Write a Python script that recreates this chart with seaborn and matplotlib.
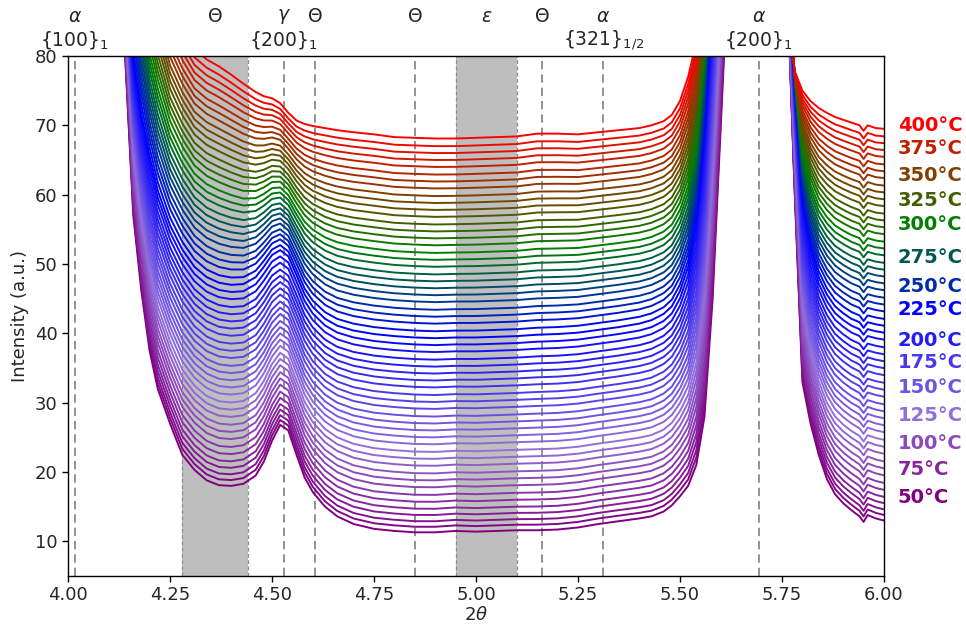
import numpy as np
import pandas as pd
import matplotlib
matplotlib.use("Agg")
import matplotlib.pyplot as plt
import matplotlib.transforms as mtransforms
from matplotlib.colors import LinearSegmentedColormap, to_hex
import seaborn as sns

# ---------------- data ----------------
two_theta = [4.10, 4.14, 4.16, 4.18, 4.20, 4.22, 4.25, 4.28, 4.31, 4.34, 4.37, 4.40,
             4.43, 4.46, 4.48, 4.50, 4.52, 4.54, 4.56, 4.58, 4.60, 4.63, 4.66, 4.70,
             4.75, 4.80, 4.85, 4.90, 4.95, 5.00, 5.05, 5.10, 5.15, 5.20, 5.25, 5.30,
             5.35, 5.40, 5.43, 5.46, 5.48, 5.50, 5.52, 5.54, 5.56, 5.58, 5.60, 5.62,
             5.66, 5.70, 5.74, 5.76, 5.78, 5.80, 5.82, 5.84, 5.86, 5.88, 5.90, 5.92,
             5.94, 5.95, 5.96, 5.98, 6.00]

# lowest curve (50 °C)
profile_50 = [120, 80, 57, 46, 37.5, 32, 27, 22.5, 20.3, 18.8, 18.1, 18.0,
              18.3, 19.5, 21.5, 24.5, 26.8, 26.0, 22.5, 19.2, 17.1, 15.0, 13.6, 12.5,
              11.8, 11.5, 11.3, 11.3, 11.5, 11.4, 11.5, 11.6, 11.6, 11.7, 12.0, 12.5,
              12.9, 13.3, 13.6, 14.3, 15.2, 16.5, 18.0, 21.0, 28.0, 45.0, 70.0, 95.0,
              150, 150, 150, 95, 62, 33, 27, 22.5, 19.0, 16.8, 15.5, 14.5,
              13.6, 12.8, 13.8, 13.3, 13.0]
# middle curve (225 °C)
profile_225 = [130, 95, 80, 72, 66, 61, 56, 52.5, 50.0, 48.5, 47.7, 47.4,
               47.5, 48.5, 50.0, 51.7, 52.4, 51.5, 48.8, 46.0, 44.2, 42.5, 41.5, 40.8,
               40.3, 40.0, 39.8, 39.7, 39.8, 39.8, 39.9, 40.0, 40.2, 40.3, 40.5, 40.9,
               41.3, 41.8, 42.3, 43.2, 44.3, 46.5, 50.0, 57.0, 70.0, 90.0, 110, 130,
               160, 160, 160, 100, 78, 60, 53, 48.5, 46.0, 44.3, 43.3, 42.5,
               42.0, 41.2, 42.0, 41.7, 41.5]
# highest curve (400 °C)
profile_400 = [150, 130, 120, 110, 100, 95, 88, 84, 81, 79.5, 78.5, 77.3,
               76.0, 74.8, 74.2, 73.9, 73.2, 71.8, 70.7, 70.2, 69.9, 69.6, 69.3, 69.0,
               68.7, 68.3, 68.2, 68.1, 68.1, 68.2, 68.3, 68.4, 68.8, 68.8, 68.7, 69.0,
               69.3, 69.6, 70.0, 70.6, 71.5, 73.5, 77.0, 82.0, 95.0, 110, 130, 150,
               170, 170, 170, 110, 78, 75, 73.5, 72.5, 71.8, 71.2, 70.8, 70.4,
               70.0, 69.2, 70.0, 69.6, 69.5]
reference_plateaus = [11.3, 39.7, 68.1]

temperatures = [50.0, 56.25, 62.5, 68.75, 75.0, 81.25, 87.5, 93.75, 100.0, 106.25,
                112.5, 118.75, 125.0, 131.25, 137.5, 143.75, 150.0, 156.25, 162.5,
                168.75, 175.0, 181.25, 187.5, 193.75, 200.0, 206.25, 212.5, 218.75,
                225.0, 231.25, 237.5, 243.75, 250.0, 256.25, 262.5, 268.75, 275.0,
                281.25, 287.5, 293.75, 300.0, 306.25, 312.5, 318.75, 325.0, 331.25,
                337.5, 343.75, 350.0, 356.25, 362.5, 368.75, 375.0, 381.25, 387.5,
                393.75, 400.0]
plateaus = [11.3, 12.1, 12.9, 13.8, 14.7, 15.7, 16.7, 17.8, 18.8, 19.8,
            20.9, 21.9, 22.9, 24.0, 25.0, 26.0, 27.0, 28.0, 29.1, 30.1,
            31.1, 32.2, 33.2, 34.2, 35.2, 36.2, 37.3, 38.3, 39.3, 40.3,
            41.4, 42.4, 43.4, 44.5, 45.5, 46.5, 47.5, 48.5, 49.6, 50.6,
            51.6, 52.7, 53.7, 54.7, 55.7, 56.8, 57.8, 58.8, 59.8, 60.9,
            61.9, 62.9, 64.0, 65.0, 66.0, 67.0, 68.1]

color_stop_temps = [50, 125, 225, 300, 400]
color_stop_colors = ["#800080", "#9370DB", "#0000FF", "#008000", "#FF0000"]

label_temps = [400, 375, 350, 325, 300, 275, 250, 225, 200, 175, 150, 125, 100, 75, 50]
label_y = [70.0, 66.7, 62.8, 59.2, 55.7, 50.9, 46.8, 43.4, 39.0, 35.8,
           32.2, 28.1, 24.1, 20.3, 16.3]

dashed_lines = [4.017, 4.529, 4.605, 4.850, 5.161, 5.312, 5.693]
shaded_bands = [(4.279, 4.440), (4.951, 5.101)]
top_row = [(4.017, r"$\alpha$"), (4.36, r"$\Theta$"), (4.529, r"$\gamma$"),
           (4.605, r"$\Theta$"), (4.850, r"$\Theta$"), (5.026, r"$\varepsilon$"),
           (5.161, r"$\Theta$"), (5.312, r"$\alpha$"), (5.693, r"$\alpha$")]
second_row = [(4.017, r"$\{100\}_1$"), (4.529, r"$\{200\}_1$"),
              (5.312, r"$\{321\}_{1/2}$"), (5.693, r"$\{200\}_1$")]

# ---------------- build curves ----------------
t_min, t_max = temperatures[0], temperatures[-1]
rel_bot = np.array(profile_50) - reference_plateaus[0]
rel_mid = np.array(profile_225) - reference_plateaus[1]
rel_top = np.array(profile_400) - reference_plateaus[2]

cmap = LinearSegmentedColormap.from_list(
    "temps",
    [((t - t_min) / (t_max - t_min), c) for t, c in zip(color_stop_temps, color_stop_colors)])

frames = []
palette = {}
for T, base in zip(temperatures, plateaus):
    f = (T - t_min) / (t_max - t_min)
    if f <= 0.5:
        w = f / 0.5
        rel = (1 - w) * rel_bot + w * rel_mid
    else:
        w = (f - 0.5) / 0.5
        rel = (1 - w) * rel_mid + w * rel_top
    frames.append(pd.DataFrame({"two_theta": two_theta, "intensity": base + rel, "temp": T}))
    palette[T] = to_hex(cmap(f))
df = pd.concat(frames, ignore_index=True)

# ---------------- plot ----------------
sns.set_style("ticks")
plt.rcParams["font.family"] = ["DejaVu Sans"]
plt.rcParams["mathtext.fontset"] = "dejavusans"

fig = plt.figure(figsize=(9.66, 6.25), dpi=100)
ax = fig.add_axes([0.0704, 0.0784, 0.8447, 0.832])

for a, b in shaded_bands:
    ax.axvspan(a, b, color="#bebebe", lw=0, zorder=0)
    for e in (a, b):
        ax.axvline(e, color="#8c8c8c", ls=(0, (3, 2)), lw=0.9, zorder=0.5)
for xv in dashed_lines:
    ax.axvline(xv, color="#7f7f7f", ls=(0, (5, 3)), lw=1.2, zorder=0.5)

sns.lineplot(data=df, x="two_theta", y="intensity", hue="temp", palette=palette,
             legend=False, estimator=None, sort=False, lw=1.4, ax=ax, zorder=2)

ax.set_xlim(4.0, 6.0)
ax.set_ylim(5, 80)
ax.set_xticks([4.0, 4.25, 4.5, 4.75, 5.0, 5.25, 5.5, 5.75, 6.0])
ax.set_xticklabels(["4.00", "4.25", "4.50", "4.75", "5.00", "5.25", "5.50", "5.75", "6.00"])
ax.set_yticks([10, 20, 30, 40, 50, 60, 70, 80])
ax.tick_params(labelsize=13, length=4, width=1, color="black")
for s in ax.spines.values():
    s.set_visible(True)
    s.set_color("black")
    s.set_linewidth(1.0)
ax.set_xlabel(r"$2\theta$", fontsize=13)
ax.xaxis.set_label_coords(0.5, -0.057)
ax.set_ylabel("Intensity (a.u.)", fontsize=13, labelpad=4)

trans = mtransforms.blended_transform_factory(ax.transData, ax.transAxes)
for xv, s in top_row:
    ax.text(xv, 1.075, s, transform=trans, ha="center", va="center", fontsize=13.5, clip_on=False)
for xv, s in second_row:
    ax.text(xv, 1.031, s, transform=trans, ha="center", va="center", fontsize=13.5, clip_on=False)

for T, yv in zip(label_temps, label_y):
    ax.text(6.034, yv, f"{T}°C", color=palette[float(T)], fontsize=14, fontweight="bold",
            ha="left", va="center", clip_on=False)

fig.savefig("out.png", dpi=100)
